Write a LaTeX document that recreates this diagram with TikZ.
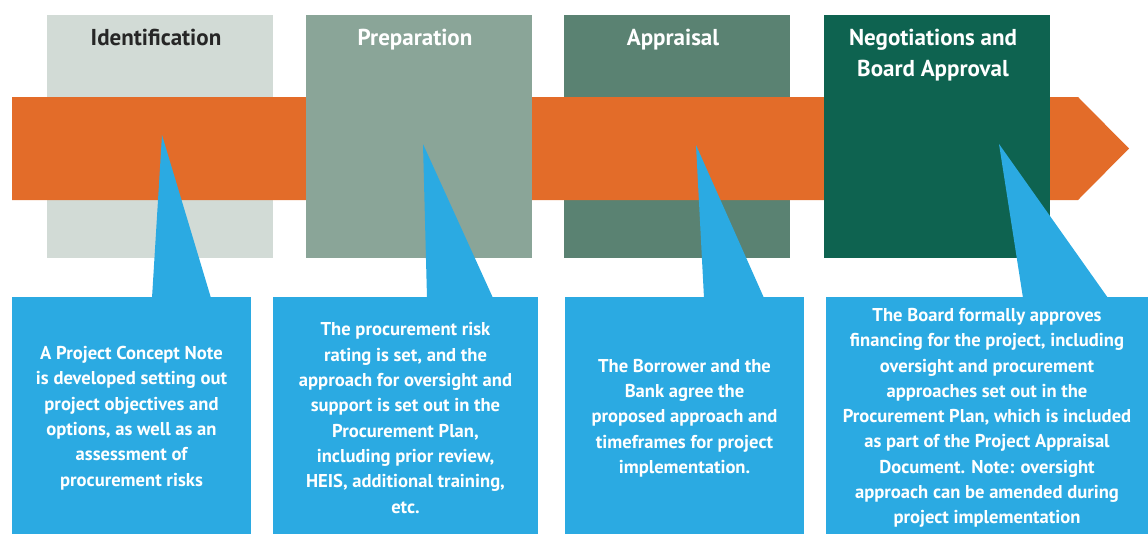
\documentclass[tikz,border=0pt]{standalone}
\usepackage{fontspec}
\setmainfont{PT Sans}
\usepackage{xcolor}
\usepackage{tikz}
\usetikzlibrary{positioning}

\definecolor{phaseA}{HTML}{D2DBD6}
\definecolor{phaseB}{HTML}{8AA598}
\definecolor{phaseC}{HTML}{5A8272}
\definecolor{phaseD}{HTML}{0E6350}
\definecolor{bandorange}{HTML}{E36C29}
\definecolor{calloutblue}{HTML}{2BAAE2}

\begin{document}
\begin{tikzpicture}[x=1pt, y=-1pt,
    phase/.style={minimum width=226pt, minimum height=243pt, inner sep=0pt, outer sep=0pt},
    phasetitle/.style={anchor=north, align=center, text=white, inner sep=0pt, xshift=-4pt,
      font=\fontsize{23}{31}\selectfont\bfseries},
    note/.style={fill=calloutblue, text=white, anchor=north west, inner sep=0pt, outer sep=0pt,
      minimum height=242pt, align=center, font=\fontsize{18.6}{25.3}\selectfont\bfseries},
    pointer/.style={fill=calloutblue}]
        \useasboundingbox (0,0) rectangle (1148,533);

        % phases under the band
        \node[phase, fill=phaseA] (ident) at (160,136.5) {};
        \node[phase, fill=phaseC] (apprais) at (677,136.5) {};

        % the time line
        \fill[bandorange] (12,97) -- (1078,97) -- (1129,148.5) -- (1078,200) -- (12,200) -- cycle;

        % phases over the band
        \node[phase, fill=phaseB] (prep) [right=33pt of ident] {};
        \node[phase, fill=phaseD] (negot) [right=34pt of apprais] {};

        \node[phasetitle, text=black!85] (identT) [below=14pt of ident.north] {Identification};
        \node[phasetitle] (prepT) [below=14pt of prep.north] {Preparation};
        \node[phasetitle] (appraisT) [below=14pt of apprais.north] {Appraisal};
        \node[phasetitle] (negotT) [below=14pt of negot.north] {Negotiations and\\Board Approval};

        % callouts
        \node[note, minimum width=239pt] (n1) at (12,297) {A Project Concept Note\\is developed setting out\\project objectives and\\options, as well as an\\assessment of\\procurement risks};
        \node[note, minimum width=265pt] (n2) at (273,297) {The procurement risk\\rating is set, and the\\approach for oversight and\\support is set out in the\\Procurement Plan,\\including prior review,\\HEIS, additional training,\\etc.};
        \node[note, minimum width=239pt] (n3) at (565,297) {The Borrower and the\\Bank agree the\\proposed approach and\\timeframes for project\\implementation.};
        \node[note, minimum width=322pt] (n4) at (826,297) {The Board formally approves\\financing for the project, including\\oversight and procurement\\approaches set out in the\\Procurement Plan, which is included\\as part of the Project Appraisal\\Document. Note: oversight\\approach can be amended during\\project implementation};

        \coordinate (t1) at (162,135);
        \coordinate (t2) at (423,144);
        \coordinate (t3) at (696,145);
        \coordinate (t4) at (999,144);

        \fill[pointer] ([xshift=140pt,yshift=-1pt]n1.north west) -- (t1) -- ([xshift=199pt,yshift=-1pt]n1.north west) -- cycle;
        \fill[pointer] ([xshift=154pt,yshift=-1pt]n2.north west) -- (t2) -- ([xshift=220pt,yshift=-1pt]n2.north west) -- cycle;
        \fill[pointer] ([xshift=139pt,yshift=-1pt]n3.north west) -- (t3) -- ([xshift=199pt,yshift=-1pt]n3.north west) -- cycle;
        \fill[pointer] ([xshift=197pt,yshift=-1pt]n4.north west) -- (t4) -- ([xshift=282pt,yshift=-1pt]n4.north west) -- cycle;
\end{tikzpicture}
\end{document}
